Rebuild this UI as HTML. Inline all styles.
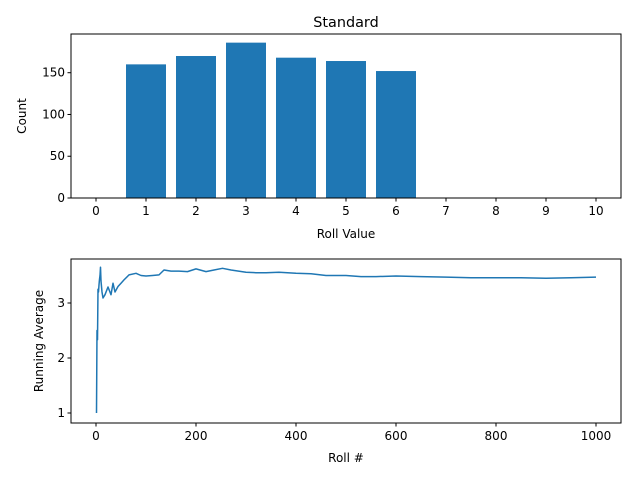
<!DOCTYPE html>
<html><head><meta charset="utf-8"><style>
body{margin:0;background:#fff;}
svg{display:block;font-family:"DejaVu Sans","Liberation Sans",sans-serif;}
</style></head><body>
<svg id="fig" width="640" height="480" viewBox="0 0 640 480">
<rect width="640" height="480" fill="#fff"/>
<text x="346" y="27" font-size="14.4" text-anchor="middle">Standard</text>
<g id="histPanel"></g>
<g id="avgPanel"></g>
</svg>
<script>
const rollValues=[1,2,3,4,5,6];
const counts=[160,170,186,168,164,152];
const xTicksTop=[0,1,2,3,4,5,6,7,8,9,10];
const yTicksTop=[0,50,100,150];
const rollIdx=[1,2,3,4,5,6,7,8,9,10,12,14,18,24,30,34,38,44,50,56,66,80,90,100,113,126,136,150,166,183,200,220,236,253,270,300,320,340,366,400,430,460,500,530,560,600,650,700,750,800,850,900,950,1000];
const runAvg=[1,2.5,2.33,3.25,3.2,3.33,3.43,3.5,3.65,3.4,3.2,3.09,3.15,3.29,3.15,3.36,3.2,3.3,3.36,3.42,3.51,3.54,3.5,3.49,3.5,3.51,3.6,3.58,3.58,3.57,3.62,3.57,3.6,3.63,3.6,3.56,3.55,3.55,3.56,3.54,3.53,3.5,3.5,3.48,3.48,3.49,3.48,3.47,3.46,3.46,3.46,3.45,3.46,3.47];
const xTicksBot=[0,200,400,600,800,1000];
const yTicksBot=[1,2,3];
const NS='http://www.w3.org/2000/svg';
function mk(parent,tag,attrs,text){const e=document.createElementNS(NS,tag);for(const k in attrs)e.setAttribute(k,attrs[k]);if(text!==undefined)e.textContent=text;parent.appendChild(e);return e;}
const histG=document.getElementById('histPanel');
const L=71,R=621,T1=34,B1=198;
const xs1=v=>L+(v+0.5)/11*(R-L);
const ys1=v=>B1-v/196.35*(B1-T1);
rollValues.forEach((v,i)=>{
 const b=mk(histG,'rect',{x:xs1(v-0.4),y:ys1(counts[i]),width:xs1(0.4)-xs1(-0.4),height:B1-ys1(counts[i]),fill:'#1f77b4'});
 
 
});
mk(histG,'rect',{x:L,y:T1,width:R-L,height:B1-T1,fill:'none',stroke:'#000','stroke-width':1});
xTicksTop.forEach(t=>{const x=xs1(t);mk(histG,'line',{x1:x,x2:x,y1:B1,y2:B1+3.5,stroke:'#000'});
 const l=mk(histG,'text',{x:x,y:B1+17,'font-size':12,'text-anchor':'middle'},t);
 
 });
yTicksTop.forEach(t=>{const y=ys1(t);mk(histG,'line',{x1:L-3.5,x2:L,y1:y,y2:y,stroke:'#000'});
 const l=mk(histG,'text',{x:L-6,y:y+4,'font-size':12,'text-anchor':'end'},t);
 
 });
let t1=mk(histG,'text',{x:346,y:238,'font-size':12,'text-anchor':'middle'},'Roll Value');


let t2=mk(histG,'text',{x:0,y:0,'font-size':12,'text-anchor':'middle',transform:'translate(26,116) rotate(-90)'},'Count');


const avgG=document.getElementById('avgPanel');
const T2=259,B2=423;
const xs2=v=>L+(v+50)/1100*(R-L);
const ys2=v=>B2-(v-0.818)/(3.8-0.818)*(B2-T2);
const pts=rollIdx.map((r,i)=>xs2(r).toFixed(1)+','+ys2(runAvg[i]).toFixed(1)).join(' ');
const pl=mk(avgG,'polyline',{points:pts,fill:'none',stroke:'#1f77b4','stroke-width':1.5,'stroke-linejoin':'round'});


mk(avgG,'rect',{x:L,y:T2,width:R-L,height:B2-T2,fill:'none',stroke:'#000','stroke-width':1});
xTicksBot.forEach(t=>{const x=xs2(t);mk(avgG,'line',{x1:x,x2:x,y1:B2,y2:B2+3.5,stroke:'#000'});
 const l=mk(avgG,'text',{x:x,y:B2+17,'font-size':12,'text-anchor':'middle'},t);
 
 });
yTicksBot.forEach(t=>{const y=ys2(t);mk(avgG,'line',{x1:L-3.5,x2:L,y1:y,y2:y,stroke:'#000'});
 const l=mk(avgG,'text',{x:L-6,y:y+4,'font-size':12,'text-anchor':'end'},t);
 
 });
let t3=mk(avgG,'text',{x:346,y:462,'font-size':12,'text-anchor':'middle'},'Roll #');


let t4=mk(avgG,'text',{x:0,y:0,'font-size':12,'text-anchor':'middle',transform:'translate(43,341) rotate(-90)'},'Running Average');


</script>
</body></html>
